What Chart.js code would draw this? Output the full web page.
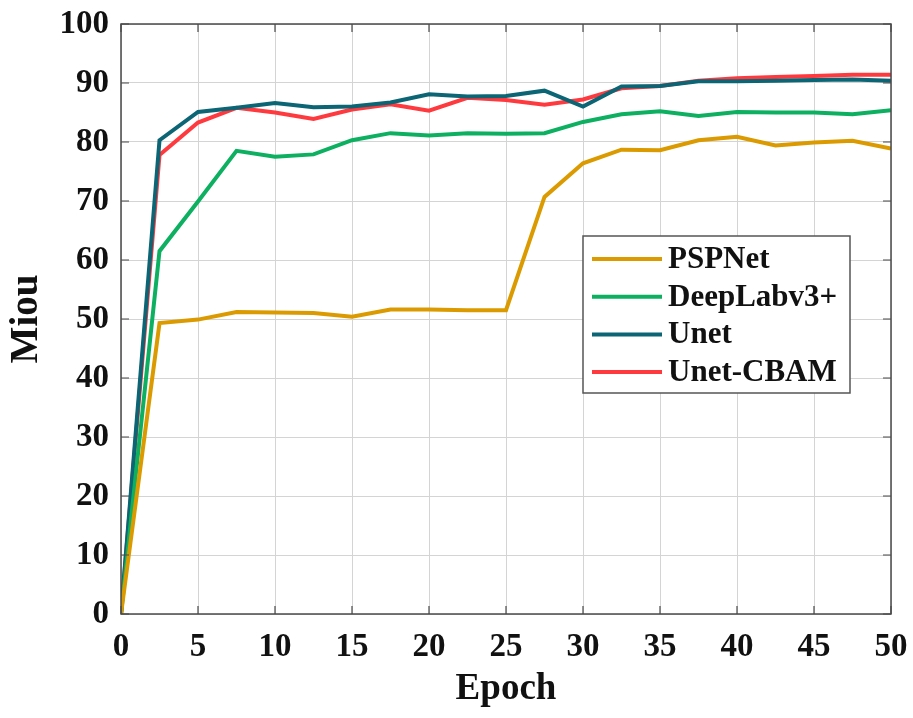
<!DOCTYPE html>
<html>
<head>
<meta charset="utf-8">
<script src="https://cdn.jsdelivr.net/npm/chart.js@4.4.0/dist/chart.umd.min.js"></script>
<style>
  html, body { margin: 0; padding: 0; background: #fff; }
  #wrap { width: 913px; height: 718px; }
</style>
</head>
<body>
<div id="wrap"><canvas id="miouChart" width="913" height="718"></canvas></div>
<script>
// epochs sampled every 2.5
const epochs = [0, 2.5, 5, 7.5, 10, 12.5, 15, 17.5, 20, 22.5, 25, 27.5, 30, 32.5, 35, 37.5, 40, 42.5, 45, 47.5, 50];

const pspnet    = [0, 49.3, 49.9, 51.2, 51.1, 51.0, 50.4, 51.6, 51.6, 51.5, 51.5, 70.7, 76.4, 78.7, 78.6, 80.3, 80.9, 79.4, 79.9, 80.2, 78.9];
const deeplab   = [0, 61.5, 69.9, 78.5, 77.5, 77.9, 80.3, 81.5, 81.1, 81.5, 81.4, 81.5, 83.4, 84.7, 85.2, 84.4, 85.1, 85.0, 85.0, 84.7, 85.4];
const unet      = [0, 80.3, 85.1, 85.8, 86.6, 85.9, 86.0, 86.7, 88.1, 87.7, 87.8, 88.7, 86.0, 89.4, 89.5, 90.3, 90.3, 90.4, 90.5, 90.6, 90.4];
const unetCbam  = [0, 77.8, 83.3, 85.8, 85.0, 83.9, 85.5, 86.4, 85.3, 87.5, 87.1, 86.3, 87.2, 89.1, 89.5, 90.4, 90.8, 91.0, 91.2, 91.4, 91.4];

const seriesNames = ['PSPNet', 'DeepLabv3+', 'Unet', 'Unet-CBAM'];
const seriesColors = ['#DB9B00', '#0DB060', '#0B6574', '#FF3A3F'];
const xTicks = [0, 5, 10, 15, 20, 25, 30, 35, 40, 45, 50];

const FONT = "'Liberation Serif', 'Times New Roman', serif";

function toPoints(arr) {
    return arr.map((v, i) => ({ x: epochs[i], y: v }));
}

// frame + inward ticks, MATLAB style
const framePlugin = {
    id: 'frame',
    afterDatasetsDraw(chart) {
        const ctx = chart.ctx;
        const a = chart.chartArea;
        const xs = chart.scales.x, ys = chart.scales.y;
        ctx.save();
        ctx.strokeStyle = '#4a4a4a';
        ctx.lineWidth = 1.5;
        ctx.strokeRect(a.left, a.top, a.right - a.left, a.bottom - a.top);
        ctx.lineWidth = 1.2;
        ctx.beginPath();
        xTicks.forEach(t => {
            const px = xs.getPixelForValue(t);
            ctx.moveTo(px, a.bottom); ctx.lineTo(px, a.bottom - 8);
            ctx.moveTo(px, a.top); ctx.lineTo(px, a.top + 8);
        });
        for (let v = 0; v <= 100; v += 10) {
            const py = ys.getPixelForValue(v);
            ctx.moveTo(a.left, py); ctx.lineTo(a.left + 8, py);
            ctx.moveTo(a.right, py); ctx.lineTo(a.right - 8, py);
        }
        ctx.stroke();
        ctx.restore();
    }
};

// boxed legend inside the plot
const legendBoxPlugin = {
    id: 'legendBox',
    afterDraw(chart) {
        const ctx = chart.ctx;
        const box = { x: 583, y: 236, w: 267, h: 157 };
        ctx.save();
        ctx.fillStyle = '#fff';
        ctx.fillRect(box.x, box.y, box.w, box.h);
        ctx.strokeStyle = '#555';
        ctx.lineWidth = 1.5;
        ctx.strokeRect(box.x, box.y, box.w, box.h);
        ctx.font = 'bold 31px ' + FONT;
        ctx.textBaseline = 'middle';
        chart.data.datasets.forEach((ds, i) => {
            const yy = box.y + 23 + i * 37.7;
            ctx.strokeStyle = ds.borderColor;
            ctx.lineWidth = 4;
            ctx.beginPath();
            ctx.moveTo(box.x + 9, yy);
            ctx.lineTo(box.x + 79, yy);
            ctx.stroke();
            ctx.fillStyle = '#111';
            ctx.fillText(ds.label, box.x + 85, yy + 1);
        });
        ctx.restore();
    }
};

const allSeries = [pspnet, deeplab, unet, unetCbam];

new Chart(document.getElementById('miouChart').getContext('2d'), {
    type: 'line',
    data: {
        datasets: allSeries.map((s, i) => ({
            label: seriesNames[i],
            data: toPoints(s),
            borderColor: seriesColors[i],
            backgroundColor: seriesColors[i],
            borderWidth: 4,
            pointRadius: 0,
            tension: 0,
            fill: false
        }))
    },
    options: {
        responsive: false,
        animation: false,
        layout: { padding: { top: 24, right: 22, left: 0, bottom: 0 } },
        plugins: { legend: { display: false }, tooltip: { enabled: false } },
        scales: {
            x: {
                type: 'linear',
                min: 0, max: 50,
                afterFit(scale) {
                    scale.height = 104;
                    scale.paddingLeft = 0;
                    scale.paddingRight = 0;
                },
                afterBuildTicks(scale) { scale.ticks = xTicks.map(v => ({ value: v })); },
                grid: { color: '#d4d4d4', lineWidth: 1, drawTicks: false },
                border: { display: false },
                ticks: { color: '#111', padding: 14, font: { family: FONT, size: 33, weight: 'bold' } },
                title: { display: true, text: 'Epoch', color: '#111', padding: { top: 0, bottom: 6 },
                         font: { family: FONT, size: 37, weight: 'bold' } }
            },
            y: {
                min: 0, max: 100,
                afterFit(scale) {
                    scale.width = 121;
                    scale.paddingTop = 0;
                    scale.paddingBottom = 0;
                },
                ticks: { stepSize: 10, color: '#111', padding: 12, font: { family: FONT, size: 33, weight: 'bold' } },
                grid: { color: '#d4d4d4', lineWidth: 1, drawTicks: false },
                border: { display: false },
                title: { display: true, text: 'Miou', color: '#111', padding: { top: 4, bottom: 0 },
                         font: { family: FONT, size: 39, weight: 'bold' } }
            }
        }
    },
    plugins: [framePlugin, legendBoxPlugin]
});
</script>
</body>
</html>
